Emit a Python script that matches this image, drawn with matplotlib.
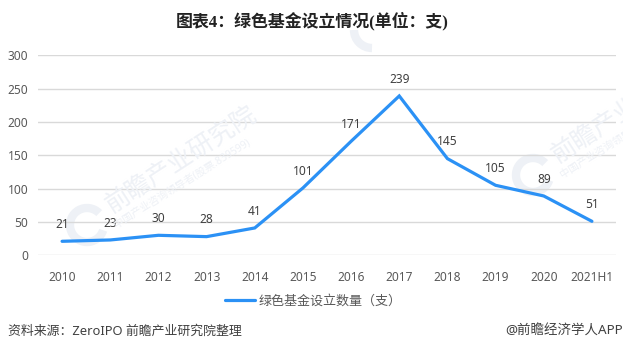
import matplotlib
matplotlib.use("Agg")
import matplotlib.pyplot as plt
from matplotlib.patches import Arc

plt.rcParams['font.family'] = ['Noto Sans', 'Noto Sans CJK SC', 'DejaVu Sans']

YEARS = ["2010", "2011", "2012", "2013", "2014", "2015", "2016", "2017", "2018", "2019", "2020", "2021H1"]
FUNDS = [21, 23, 30, 28, 41, 101, 171, 239, 145, 105, 89, 51]
Y_TICKS = [0, 50, 100, 150, 200, 250, 300]

W, H = 623, 352
LINE_COLOR = "#2B91F5"
TEXT_GREY = "#595959"
WM_COLOR = "#EEF1F6"


def watermark(fig, x, y):
  # faint logo and company name, pixel position of the logo centre
  logo = Arc((x / W, 1 - y / H), 34 / W, 34 / H, angle=0, theta1=60, theta2=330,
             transform=fig.transFigure, color=WM_COLOR, lw=6, zorder=0)
  fig.add_artist(logo)
  # the right hand watermark runs off the picture edge, same as the reference
  fig.text((x + 21) / W, 1 - (y - 17) / H, "前瞻产业研究院", fontsize=18, color=WM_COLOR,
           rotation=33, rotation_mode="anchor", ha="left", va="center", zorder=0, clip_on=True)
  fig.text((x + 28) / W, 1 - (y + 1) / H, "中国产业咨询领导者(股票.839599)", fontsize=7.5, color=WM_COLOR,
           rotation=32, rotation_mode="anchor", ha="left", va="center", zorder=0, clip_on=True)


fig = plt.figure(figsize=(W / 100, H / 100), dpi=100)
ax = fig.add_axes([38 / W, 1 - 255.3 / H, (616 - 38) / W, 200 / H])
ax.patch.set_alpha(0)

watermark(fig, 87, 225)
watermark(fig, 533, 175)

# leftover piece of a third logo just under the title
fig.add_artist(Arc((372 / W, 1 - 30 / H), 36 / W, 36 / H, theta1=180, theta2=270,
                   transform=fig.transFigure, color=WM_COLOR, lw=6, zorder=0))

x = list(range(len(YEARS)))
ax.plot(x, FUNDS, color=LINE_COLOR, lw=2.3, solid_capstyle="round", solid_joinstyle="miter",
        label="绿色基金设立数量（支）", zorder=3)

for i, v in zip(x, FUNDS):
  ax.annotate(str(v), (i, v), xytext=(0, 12.2), textcoords="offset points", ha="center", va="center",
              fontsize=8.6, color="#404040", zorder=4)

ax.set_xlim(-0.5, len(YEARS) - 0.5)
ax.set_ylim(0, 300)
ax.set_xticks(x)
ax.set_xticklabels(YEARS)
ax.set_yticks(Y_TICKS)
ax.tick_params(axis="both", length=0, labelsize=8.6, labelcolor=TEXT_GREY)
ax.tick_params(axis="x", pad=11)
ax.tick_params(axis="y", pad=7)
ax.grid(axis="y", color="#D9D9D9", lw=1)
ax.set_axisbelow(True)
for s in ax.spines.values():
  s.set_visible(False)

ax.legend(loc="center", bbox_to_anchor=(313.5 / W, 1 - 301 / H), bbox_transform=fig.transFigure,
          frameon=False, fontsize=9.4, labelcolor=TEXT_GREY, handlelength=2.3, handletextpad=0.25)

fig.text(312 / W, 1 - 21 / H, "图表4：绿色基金设立情况(单位：支)", fontsize=12.2, fontweight="bold", color="#222222",
         family=["Liberation Serif", "Noto Sans CJK SC"], ha="center", va="center")
fig.text(8 / W, 1 - 331 / H, "资料来源：ZeroIPO 前瞻产业研究院整理", fontsize=9.3, color="#404040", ha="left", va="center")
fig.text(505 / W, 1 - 331 / H, "@前瞻经济学人APP", fontsize=9.7, color="#404040", ha="left", va="center")

fig.savefig("out.png", dpi=100, facecolor="white")
plt.close()
